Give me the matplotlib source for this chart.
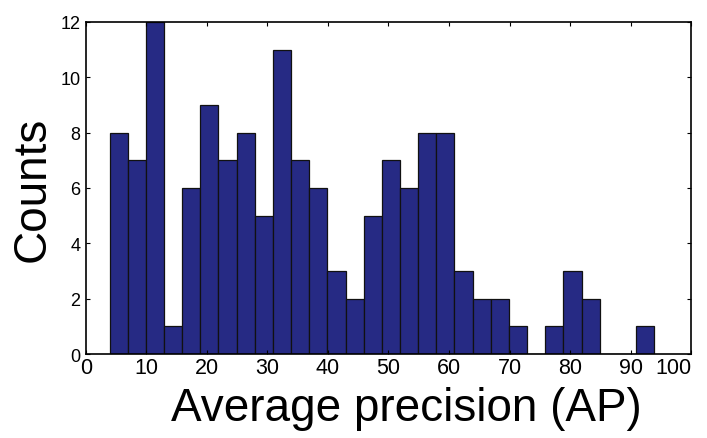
import matplotlib
matplotlib.use("Agg")
import matplotlib.pyplot as plt
import numpy as np

plt.rcParams['font.family'] = ['Liberation Sans', 'DejaVu Sans']

# Histogram data (30 bins)
bin_start = 3.9
bin_width = 3.0
counts = [8, 7, 12, 1, 6, 9, 7, 8, 5, 11, 7, 6, 3, 2, 5,
          7, 6, 8, 8, 3, 2, 2, 1, 0, 1, 3, 2, 0, 0, 1]
x_ticks = [0, 10, 20, 30, 40, 50, 60, 70, 80, 90, 100]
y_ticks = [0, 2, 4, 6, 8, 10, 12]

edges = bin_start + bin_width * np.arange(len(counts))

fig = plt.figure(figsize=(7.07, 4.39), dpi=100)
ax = fig.add_axes([0.1216, 0.1913, 0.8558, 0.7567])
ax.bar(edges, counts, width=bin_width, align='edge', color='#262a84',
       edgecolor='#111111', linewidth=0.9)

ax.set_xlim(0, 100)
ax.set_ylim(0, 12)
ax.set_xticks(x_ticks)
ax.set_yticks(y_ticks)
ax.tick_params(axis='both', direction='in', top=True, right=True, length=3, width=0.8)
ax.tick_params(axis='x', labelsize=15.5, pad=2)
ax.tick_params(axis='y', labelsize=13, pad=4)
for s in ax.spines.values():
    s.set_linewidth(1.2)
xlabels = ax.get_xticklabels()
xlabels[-1].set_horizontalalignment('right')

ax.set_xlabel('Average precision (AP)', fontsize=33, labelpad=6)
ax.xaxis.label.set_x(0.53)
ax.set_ylabel('Counts', fontsize=33, labelpad=4)

fig.savefig('out.png', dpi=100)
